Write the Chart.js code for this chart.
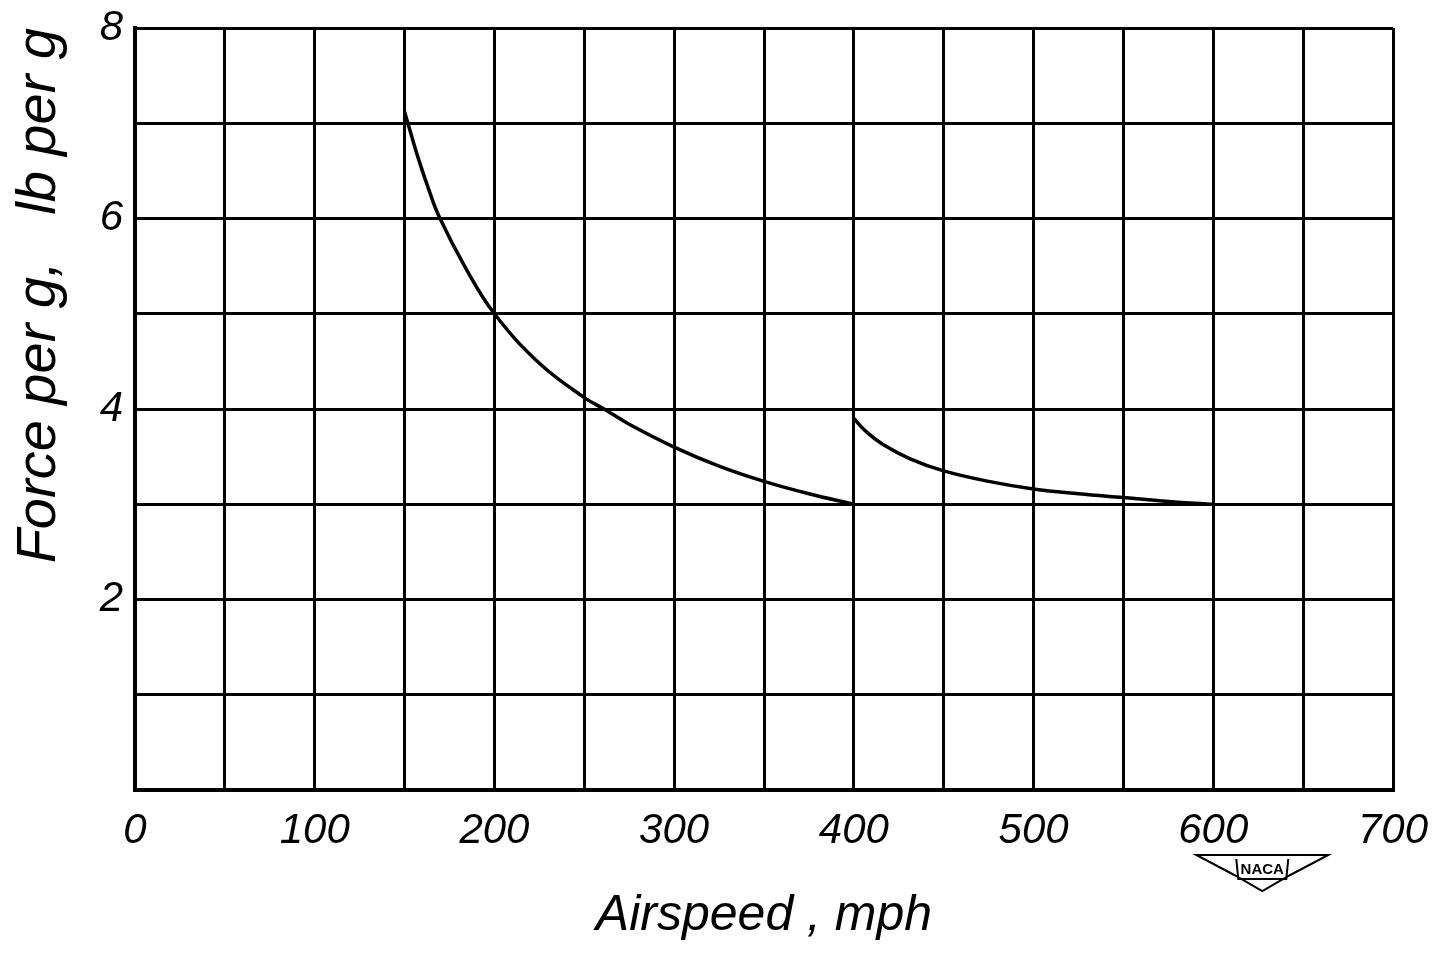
<!DOCTYPE html>
<html>
<head>
<meta charset="utf-8">
<script src="https://cdn.jsdelivr.net/npm/chart.js@4/dist/chart.umd.min.js"></script>
<style>
  html, body { margin: 0; padding: 0; background: #fff; }
  #wrap { width: 1445px; height: 958px; }
</style>
</head>
<body>
<div id="wrap"><canvas id="myChart" width="1445" height="958"></canvas></div>
<script>
// airspeed (mph) vs force per g (lb per g)
const lowSpeed = [150, 154, 158, 163, 169, 184, 200, 225, 250, 261, 275, 300, 325, 350, 375, 400];
const lowForce = [7.12, 6.86, 6.61, 6.33, 6.03, 5.48, 5.00, 4.48, 4.12, 4.00, 3.84, 3.60, 3.40, 3.24, 3.11, 3.00];
const highSpeed = [400, 407, 416, 431, 450, 475, 500, 525, 550, 575, 590, 600];
const highForce = [3.90, 3.76, 3.63, 3.48, 3.35, 3.24, 3.16, 3.11, 3.07, 3.03, 3.01, 3.00];

const xTitle = 'Airspeed , mph';
const yTitle = 'Force per g,   lb per g';

const handFont = "'Liberation Sans', sans-serif";

function toPoints(xs, ys) {
  return xs.map((x, i) => ({ x: x, y: ys[i] }));
}

// little NACA wing badge under the 600 label
const nacaBadge = {
  id: 'nacaBadge',
  afterDraw(chart) {
    const ctx = chart.ctx;
    const cx = chart.scales.x.getPixelForValue(600) + 49;
    const top = 855;
    ctx.save();
    ctx.strokeStyle = '#000';
    ctx.lineWidth = 2;
    ctx.beginPath();
    ctx.moveTo(cx - 66, top);
    ctx.lineTo(cx + 66, top);
    ctx.lineTo(cx + 28, top + 20);
    ctx.lineTo(cx, top + 36);
    ctx.lineTo(cx - 28, top + 20);
    ctx.closePath();
    ctx.stroke();
    ctx.beginPath();
    ctx.moveTo(cx - 26, top + 4);
    ctx.lineTo(cx - 24, top + 24);
    ctx.lineTo(cx + 24, top + 24);
    ctx.lineTo(cx + 26, top + 4);
    ctx.stroke();
    ctx.fillStyle = '#000';
    ctx.font = "bold 15px 'Liberation Sans', sans-serif";
    ctx.textAlign = 'center';
    ctx.textBaseline = 'middle';
    ctx.fillText('NACA', cx, top + 15);
    ctx.restore();
  }
};

let ctx = document.getElementById('myChart').getContext('2d');

let myChart = new Chart(ctx, {
  type: 'line',
  data: {
    datasets: [
      {
        label: 'low',
        data: toPoints(lowSpeed, lowForce),
        borderColor: '#000',
        borderWidth: 3.5,
        pointRadius: 0,
        tension: 0.4,
        fill: false
      },
      {
        label: 'high',
        data: toPoints(highSpeed, highForce),
        borderColor: '#000',
        borderWidth: 3.5,
        pointRadius: 0,
        tension: 0.4,
        fill: false
      }
    ]
  },
  options: {
    responsive: false,
    animation: false,
    layout: { padding: { left: 0, right: 52, top: 28, bottom: 0 } },
    plugins: {
      legend: { display: false },
      tooltip: { enabled: false }
    },
    scales: {
      x: {
        type: 'linear',
        min: 0,
        max: 700,
        afterFit(scale) { scale.height = 168; },
        grid: { color: '#000', lineWidth: 3, drawTicks: false },
        border: { color: '#000', width: 4 },
        ticks: {
          stepSize: 50,
          padding: 16,
          maxRotation: 0,
          autoSkip: false,
          color: '#000',
          font: { family: handFont, size: 42, style: 'italic' },
          callback: (v) => (v % 100 === 0 ? String(v) : '')
        },
        title: {
          display: true,
          text: xTitle,
          color: '#000',
          padding: { top: 0, bottom: 12 },
          font: { family: handFont, size: 50, style: 'italic' }
        }
      },
      y: {
        type: 'linear',
        min: 0,
        max: 8,
        afterFit(scale) {
          scale.width = 135;
          scale.paddingTop = 0;
          scale.paddingBottom = 0;
        },
        grid: { color: '#000', lineWidth: 3, drawTicks: false },
        border: { color: '#000', width: 4 },
        ticks: {
          stepSize: 1,
          padding: 12,
          autoSkip: false,
          color: '#000',
          font: { family: handFont, size: 42, style: 'italic' },
          callback: (v) => (v % 2 === 0 && v > 0 ? String(v) : '')
        },
        title: {
          display: true,
          text: yTitle,
          align: 'end',
          color: '#000',
          padding: { top: 6, bottom: 0 },
          font: { family: handFont, size: 56, style: 'italic' }
        }
      }
    }
  },
  plugins: [nacaBadge]
});
</script>
</body>
</html>
